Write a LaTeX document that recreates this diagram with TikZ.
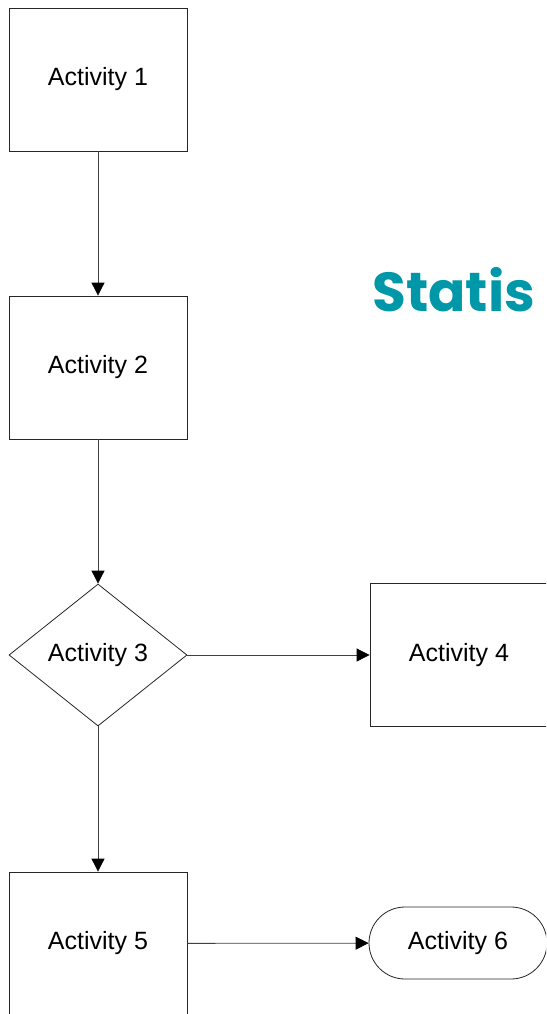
\documentclass[tikz,border=0pt]{standalone}
\usepackage{fontspec}
\setmainfont{Liberation Sans}
\newfontfamily\titlefont{Poppins}
\usetikzlibrary{shapes.geometric,arrows.meta}
\definecolor{statteal}{RGB}{0,152,168}

\begin{document}
\begin{tikzpicture}[x=1pt,y=-1pt,
  actbox/.style={draw=black!85, line width=0.8pt, minimum width=178pt, minimum height=143pt, inner sep=0pt, font=\fontsize{25}{30}\selectfont},
  actdec/.style={draw=black!85, line width=0.8pt, diamond, aspect=1.25, minimum width=178pt, minimum height=142pt, inner sep=0pt, font=\fontsize{25}{30}\selectfont},
  actend/.style={draw=black!85, line width=0.8pt, rounded corners=36pt, minimum width=178pt, minimum height=72pt, inner sep=0pt, font=\fontsize{25}{30}\selectfont},
  flow/.style={draw=black!75, line width=0.8pt, -{Triangle[width=13pt,length=13pt,color=black]}}]
\useasboundingbox (0,0) rectangle (546,1014);
\clip (0,0) rectangle (546,1014);
% activities
\node [actbox] (act1) at (98,79.5) {Activity 1};
\node [actbox] (act2) at (98,367.5) {Activity 2};
\node [actdec] (act3) at (98,655) {Activity 3};
\node [actbox] (act4) at (459,655) {Activity 4};
\node [actbox] (act5) at (98,943.5) {Activity 5};
\node [actend] (act6) at (458,943) {Activity 6};
% title
\node [anchor=base west, inner sep=0pt, text=statteal, font=\titlefont\bfseries\fontsize{55}{62}\selectfont] (title) at (372,311) {Statis};
% arrows
\draw [flow] (act1) -- (act2);
\draw [flow] (act2) -- (act3);
\draw [flow] (act3) -- (act4);
\draw [flow] (act3) -- (act5);
\draw [flow] (act5) -- (act6);
\end{tikzpicture}
\end{document}
